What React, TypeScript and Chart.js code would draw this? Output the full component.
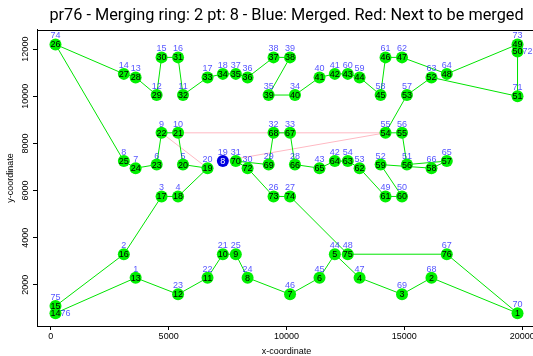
import { useEffect, useRef } from "react";
import { Chart, registerables } from "chart.js";

Chart.register(...registerables);

const TITLE = "pr76 - Merging ring: 2 pt: 8 - Blue: Merged. Red: Next to be merged";

// pr76 city coordinates, indexed by city id 1..76
const cityX = [
  3600, 3100, 4700, 5400, 5608, 4493, 3600, 3100, 4700, 5400,
  5610, 4492, 3600, 3100, 4700, 5400, 6650, 7300, 7300, 6650,
  7300, 6650, 5400, 8350, 7850, 9450, 10150, 10358, 9243, 8350,
  7850, 9450, 10150, 10360, 9242, 8350, 7850, 9450, 10150, 11400,
  12050, 12050, 11400, 12050, 11400, 10150, 13100, 12600, 14200, 14900,
  15108, 13993, 13100, 12600, 14200, 14900, 15110, 13992, 13100, 12600,
  14200, 14900, 16150, 16800, 16800, 16150, 16800, 16150, 14900, 19800,
  19800, 19800, 19800, 200, 200, 200,
];
const cityY = [
  2300, 3300, 5750, 5750, 7103, 7102, 6950, 7250, 8450, 8450,
  10053, 10052, 10800, 10950, 11650, 11650, 10800, 10950, 7250, 6950,
  3300, 2300, 1600, 2300, 3300, 5750, 5750, 7103, 7102, 6950,
  7250, 8450, 8450, 10053, 10052, 10800, 10950, 11650, 11650, 10800,
  10950, 7250, 6950, 3300, 2300, 1600, 2300, 3300, 5750, 5750,
  7103, 7102, 6950, 7250, 8450, 8450, 10053, 10052, 10800, 10950,
  11650, 11650, 10800, 10950, 7250, 6950, 3300, 2300, 1600, 800,
  10000, 11900, 12200, 12200, 1100, 800,
];

// current ring, in visiting order (city ids), and the position label shown on each node
const ringIds = [
  70, 68, 69, 47, 44, 45, 46, 24, 25, 21, 22, 23, 1, 76, 75, 2, 3, 4, 20, 5,
  10, 9, 6, 7, 8, 74, 14, 13, 12, 15, 16, 11, 17, 18, 37, 36, 38, 39, 35, 34,
  40, 41, 60, 59, 58, 61, 62, 64, 73, 72, 71, 63, 57, 55, 56, 51, 65, 66, 52, 50,
  49, 53, 54, 42, 43, 28, 33, 32, 29, 31, 30, 26, 27, 48, 67,
];
const ringLabels = [
  1, 2, 3, 4, 5, 6, 7, 8, 9, 10, 11, 12, 13, 14, 15, 16, 17, 18, 19, 20,
  21, 22, 23, 24, 25, 26, 27, 28, 29, 30, 31, 32, 33, 34, 35, 36, 37, 38, 39, 40,
  41, 42, 43, 44, 45, 46, 47, 48, 49, 50, 51, 52, 53, 54, 55, 56, 57, 58, 59, 60,
  61, 62, 63, 64, 65, 66, 67, 68, 69, 70, 72, 73, 74, 75, 76,
];

// the point that has just been merged
const mergedId = 19;
const mergedLabel = "8";

// edges of the next merge (city id pairs)
const nextEdges = [
  [9, 20],
  [10, 55],
  [55, 19],
];

const xTicks = [0, 5000, 10000, 15000, 20000];
const yTicks = [2000, 4000, 6000, 8000, 10000, 12000];
const xLimits = [-584, 20584];
const yLimits = [255, 12813];

const GREEN = "rgb(0,240,0)";
const GREEN_LINE = "rgb(0,228,0)";
const MERGED_BLUE = "rgb(0,0,225)";
const NEXT_PINK = "rgb(255,185,195)";
const ID_BLUE = "rgba(20,20,255,0.75)";
const LABEL_FONT = "9px 'Liberation Sans', Arial, sans-serif";

const pointOf = (id: number) => ({ x: cityX[id - 1], y: cityY[id - 1] });

const nodeIds = [...ringIds, mergedId];
const nodeTexts = [...ringLabels.map(String), mergedLabel];
const nodePoints = nodeIds.map(pointOf);
const mergedIndex = nodeIds.length - 1;

// a city id label goes to the right when another city sits right above it
const labelOnRight = nodePoints.map((p, i) =>
  nodePoints.some(
    (q, j) => j !== i && Math.abs(q.x - p.x) < 50 && q.y - p.y > 0 && q.y - p.y <= 400
  )
);

const nodeLabelPlugin = {
  id: "nodeLabels",
  beforeDatasetDraw(chart: any, args: any) {
    if (chart.data.datasets[args.index].label !== "cities") return;
    const ctx = chart.ctx as CanvasRenderingContext2D;
    ctx.save();
    ctx.font = LABEL_FONT;
    ctx.fillStyle = ID_BLUE;
    ctx.textAlign = "center";
    ctx.textBaseline = "middle";
    args.meta.data.forEach((el: any, i: number) => {
      const { x, y } = el.getProps(["x", "y"], true);
      const text = String(nodeIds[i]);
      if (labelOnRight[i]) ctx.fillText(text, x + 10, y);
      else ctx.fillText(text, x, y - 8.5);
    });
    ctx.restore();
  },
  afterDatasetDraw(chart: any, args: any) {
    if (chart.data.datasets[args.index].label !== "cities") return;
    const ctx = chart.ctx as CanvasRenderingContext2D;
    ctx.save();
    ctx.font = LABEL_FONT;
    ctx.textAlign = "center";
    ctx.textBaseline = "middle";
    args.meta.data.forEach((el: any, i: number) => {
      const { x, y } = el.getProps(["x", "y"], true);
      ctx.fillStyle = i === mergedIndex ? "#ffffff" : "#000000";
      ctx.fillText(nodeTexts[i], x, y + 0.5);
    });
    ctx.restore();
  },
};

const plotBoxPlugin = {
  id: "plotBox",
  beforeDatasetsDraw(chart: any) {
    const { ctx, chartArea } = chart;
    ctx.save();
    ctx.strokeStyle = "#000";
    ctx.lineWidth = 1;
    const l = Math.round(chartArea.left) + 0.5;
    const t = Math.round(chartArea.top) + 0.5;
    const r = Math.round(chartArea.right) + 0.5;
    const b = Math.round(chartArea.bottom) + 0.5;
    ctx.strokeRect(l, t, r - l, b - t);
    ctx.restore();
  },
};

const tickFont = { family: "'Liberation Sans', Arial, sans-serif", size: 9, lineHeight: 1.2 };
const titleFont = { family: "'Liberation Sans', Arial, sans-serif", size: 9, lineHeight: 1 };

export default function App() {
  const canvasRef = useRef<HTMLCanvasElement | null>(null);

  useEffect(() => {
    if (!canvasRef.current) return;
    const ringPath = [...ringIds, ringIds[0]].map(pointOf);

    const chart = new Chart(canvasRef.current, {
      type: "scatter",
      data: {
        datasets: [
          {
            label: "cities",
            data: nodePoints,
            showLine: false,
            pointRadius: 6,
            pointHoverRadius: 6,
            pointBorderWidth: 0,
            pointBackgroundColor: (c: any) => (c.dataIndex === mergedIndex ? MERGED_BLUE : GREEN),
            pointBorderColor: (c: any) => (c.dataIndex === mergedIndex ? MERGED_BLUE : GREEN),
            order: 0,
          },
          {
            label: "ring",
            data: ringPath,
            showLine: true,
            borderColor: GREEN_LINE,
            borderWidth: 1,
            pointRadius: 0,
            order: 1,
          },
          ...nextEdges.map(([a, b], k) => ({
            label: "next" + k,
            data: [pointOf(a), pointOf(b)],
            showLine: true,
            borderColor: NEXT_PINK,
            borderWidth: 1,
            pointRadius: 0,
            order: 2,
          })),
        ],
      } as any,
      options: {
        animation: false,
        responsive: false,
        events: [],
        layout: { padding: { left: 0, right: 9, top: 0, bottom: 0 } },
        plugins: {
          legend: { display: false },
          tooltip: { enabled: false },
          title: {
            display: true,
            text: TITLE,
            fullSize: false,
            color: "#000",
            font: { family: "Roboto, 'Liberation Sans', sans-serif", size: 16.3, weight: "normal", lineHeight: 1.2 },
            padding: { top: 6, bottom: 4.4 },
          },
        },
        scales: {
          x: {
            type: "linear",
            min: xLimits[0],
            max: xLimits[1],
            afterBuildTicks: (s: any) => {
              s.ticks = xTicks.map((v) => ({ value: v }));
            },
            afterFit: (s: any) => {
              s.height = 30;
            },
            grid: { display: true, drawOnChartArea: false, drawTicks: true, tickLength: 4, color: "#000" },
            border: { display: true, color: "#000", width: 1 },
            ticks: {
              color: "#000",
              font: tickFont,
              padding: 1,
              minRotation: 0,
              maxRotation: 0,
              callback: (v: any) => String(v),
            },
            title: {
              display: true,
              text: "x-coordinate",
              color: "#000",
              font: titleFont,
              padding: { top: 0, bottom: 0 },
            },
          },
          y: {
            type: "linear",
            min: yLimits[0],
            max: yLimits[1],
            afterBuildTicks: (s: any) => {
              s.ticks = yTicks.map((v) => ({ value: v }));
            },
            afterFit: (s: any) => {
              s.width = 37;
            },
            grid: { display: true, drawOnChartArea: false, drawTicks: true, tickLength: 4, color: "#000" },
            border: { display: true, color: "#000", width: 1 },
            ticks: {
              color: "#000",
              font: tickFont,
              padding: -5,
              minRotation: 90,
              maxRotation: 90,
              crossAlign: "center",
              callback: (v: any) => String(v),
            },
            title: {
              display: true,
              text: "y-coordinate",
              color: "#000",
              font: titleFont,
              padding: { top: 6.3, bottom: 0 },
            },
          },
        },
      } as any,
      plugins: [plotBoxPlugin, nodeLabelPlugin],
    });

    return () => chart.destroy();
  }, []);

  return (
    <div
      style={{
        position: "fixed",
        left: 0,
        top: 0,
        width: 533,
        height: 356,
        overflow: "hidden",
        background: "#fff",
      }}
    >
      <canvas ref={canvasRef} width={545} height={356} style={{ display: "block" }} />
    </div>
  );
}
